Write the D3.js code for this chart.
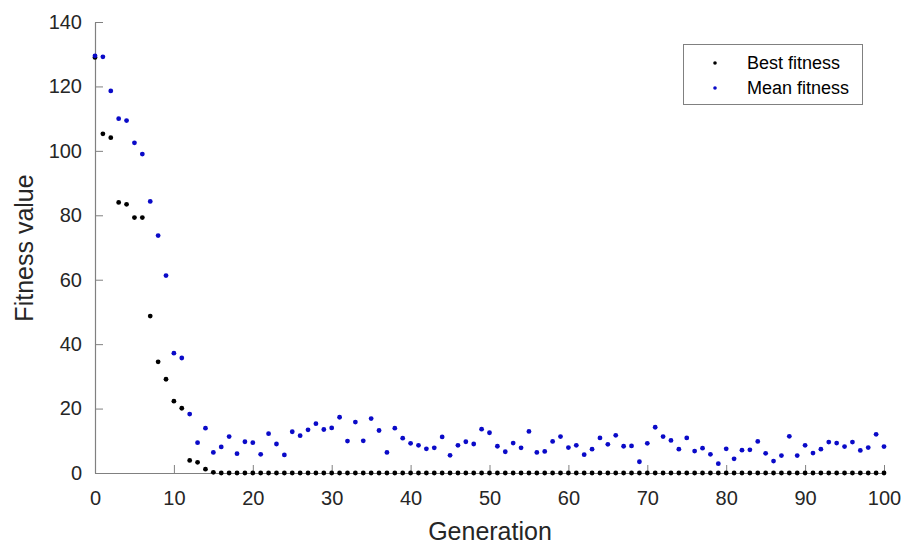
<!DOCTYPE html>
<meta charset='utf-8'>
<style>
  body { margin:0; background:#fff; }
  svg { font-family:'Liberation Sans', Arial, sans-serif; }
  .axis path, .axis line { stroke:#808080; }
  .axis text { fill:#262626; font-size:20px; }
  .label { fill:#262626; font-size:25px; }
  .legend text { fill:#000; font-size:18px; }
</style>
<body>
  <script src='https://d3js.org/d3.v7.min.js'></script>
  <script>
    var width = 907;
    var height = 545;

    // data ---------------------------------------------------------------
    var generations = d3.range(0, 101);
    var bestFitness = [
      129, 105.3, 104.1, 84.0, 83.4, 79.3, 79.3, 48.7, 34.5, 29.1,
      22.3, 20.1, 3.9, 3.3, 1.2, 0.2, 0, 0, 0, 0,
      0, 0, 0, 0, 0, 0, 0, 0, 0, 0,
      0, 0, 0, 0, 0, 0, 0, 0, 0, 0,
      0, 0, 0, 0, 0, 0, 0, 0, 0, 0,
      0, 0, 0, 0, 0, 0, 0, 0, 0, 0,
      0, 0, 0, 0, 0, 0, 0, 0, 0, 0,
      0, 0, 0, 0, 0, 0, 0, 0, 0, 0,
      0, 0, 0, 0, 0, 0, 0, 0, 0, 0,
      0, 0, 0, 0, 0, 0, 0, 0, 0, 0,
      0
    ];
    var meanFitness = [
      129.5, 129.2, 118.6, 110, 109.4, 102.5, 99, 84.3, 73.7, 61.3,
      37.2, 35.7, 18.3, 9.4, 13.9, 6.4, 8.1, 11.3, 6.0, 9.7,
      9.4, 5.8, 12.2, 9.0, 5.6, 12.8, 11.6, 13.4, 15.3, 13.5,
      14.0, 17.3, 9.9, 15.8, 10.0, 16.9, 13.2, 6.4, 13.9, 10.8,
      9.2, 8.6, 7.5, 7.8, 11.2, 5.5, 8.6, 9.7, 9.0, 13.6,
      12.5, 8.3, 6.6, 9.3, 7.8, 12.9, 6.4, 6.7, 9.8, 11.3,
      7.9, 8.6, 5.7, 7.4, 10.9, 8.9, 11.7, 8.3, 8.4, 3.5,
      9.2, 14.2, 11.3, 10.1, 7.4, 10.9, 6.8, 7.7, 5.8, 2.9,
      7.5, 4.4, 7.1, 7.2, 9.8, 6.1, 3.7, 5.4, 11.4, 5.4,
      8.6, 6.2, 7.4, 9.6, 9.3, 8.2, 9.6, 7.0, 7.9, 12.0,
      8.2
    ];
    var xTicks = [0, 10, 20, 30, 40, 50, 60, 70, 80, 90, 100];
    var yTicks = [0, 20, 40, 60, 80, 100, 120, 140];
    var seriesNames = ['Best fitness', 'Mean fitness'];
    var seriesColors = ['#000000', '#0a0ac8'];

    var svg = d3.select('body').append('svg')
      .attr('width', width)
      .attr('height', height);

    var x = d3.scaleLinear().domain([0, 100]).range([95, 884]);
    var y = d3.scaleLinear().domain([0, 140]).range([473, 22]);

    // axes (ticks point inward, no box) -------------------------------------
    svg.append('g')
      .attr('class', 'axis')
      .attr('transform', 'translate(0,' + y(0) + ')')
      .call(d3.axisBottom(x).tickValues(xTicks).tickSizeInner(-8).tickSizeOuter(0).tickPadding(18))
      .call(function(g) { g.selectAll('text').attr('dy', '0.71em'); });

    svg.append('g')
      .attr('class', 'axis')
      .attr('transform', 'translate(' + x(0) + ',0)')
      .call(d3.axisLeft(y).tickValues(yTicks).tickSizeInner(-8).tickSizeOuter(0).tickPadding(13));

    svg.selectAll('.axis path').attr('stroke-width', 1.2);

    svg.append('text')
      .attr('class', 'label')
      .attr('x', 490)
      .attr('y', 540)
      .attr('text-anchor', 'middle')
      .text('Generation');

    svg.append('text')
      .attr('class', 'label')
      .attr('transform', 'translate(33,248) rotate(-90)')
      .attr('text-anchor', 'middle')
      .text('Fitness value');

    // points ---------------------------------------------------------------
    [bestFitness, meanFitness].forEach(function(values, i) {
      svg.append('g').selectAll('circle')
        .data(generations)
        .join('circle')
        .attr('cx', function(d) { return x(d); })
        .attr('cy', function(d) { return y(values[d]); })
        .attr('r', 2.4)
        .attr('fill', seriesColors[i]);
    });

    // legend ---------------------------------------------------------------
    var legend = svg.append('g').attr('class', 'legend');
    legend.append('rect')
      .attr('x', 683.5).attr('y', 44.5)
      .attr('width', 179).attr('height', 60)
      .attr('fill', '#fff')
      .attr('stroke', '#808080');
    seriesNames.forEach(function(name, i) {
      legend.append('circle')
        .attr('cx', 715).attr('cy', 63 + i * 25)
        .attr('r', 1.8)
        .attr('fill', seriesColors[i]);
      legend.append('text')
        .attr('x', 747).attr('y', 63 + i * 25)
        .attr('dy', '0.35em')
        .text(name);
    });
  </script>
</body>
